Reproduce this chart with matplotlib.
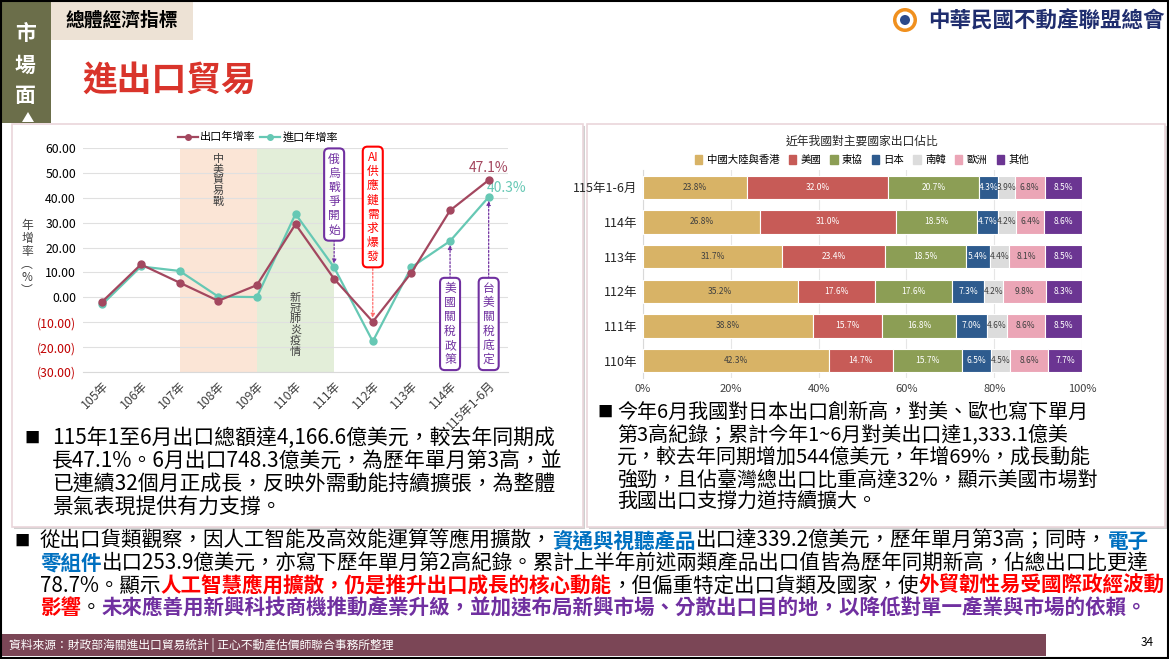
import matplotlib
matplotlib.use('Agg')
import matplotlib.pyplot as plt
from matplotlib.patches import Rectangle, Polygon, Circle, Patch
from matplotlib.lines import Line2D
import numpy as np

plt.rcParams['font.family'] = ['Noto Sans CJK TC', 'DejaVu Sans']

W, H = 1169, 659

# ---------------- data ----------------
years = ['105年', '106年', '107年', '108年', '109年', '110年', '111年', '112年', '113年', '114年', '115年1-6月']
export_growth = [-1.7, 13.2, 5.9, -1.4, 4.9, 29.4, 7.4, -9.8, 9.9, 34.9, 47.1]
import_growth = [-2.8, 12.4, 10.6, 0.3, 0.1, 33.5, 12.0, -17.7, 12.1, 22.6, 40.3]
growth_ticks = [60, 50, 40, 30, 20, 10, 0, -10, -20, -30]
series_names = ['出口年增率', '進口年增率']

shade_labels = ['中美貿易戰', '新冠肺炎疫情']
shade_ranges = [(2, 4), (4, 6)]
event_labels = ['俄烏戰爭開始', 'AI供應鏈需求爆發', '美國關稅政策', '台美關稅底定']
event_index = [6, 7, 9, 10]

share_title = '近年我國對主要國家出口佔比'
share_periods = ['115年1-6月', '114年', '113年', '112年', '111年', '110年']
share_regions = ['中國大陸與香港', '美國', '東協', '日本', '南韓', '歐洲', '其他']
share_china = [23.8, 26.8, 31.7, 35.2, 38.8, 42.3]
share_us = [32.0, 31.0, 23.4, 17.6, 15.7, 14.7]
share_asean = [20.7, 18.5, 18.5, 17.6, 16.8, 15.7]
share_japan = [4.3, 4.7, 5.4, 7.3, 7.0, 6.5]
share_korea = [3.9, 4.2, 4.4, 4.2, 4.6, 4.5]
share_europe = [6.8, 6.4, 8.1, 9.8, 8.6, 8.6]
share_other = [8.5, 8.6, 8.5, 8.3, 8.5, 7.7]
share_ticks = [0, 20, 40, 60, 80, 100]

# ---------------- styles ----------------
C_EXP = '#a3475f'
C_IMP = '#66c8b4'
C_PURPLE = '#7030a0'
C_RED = '#ff0000'
C_BLUE = '#0070c0'
share_colors = ['#d8b366', '#c75b57', '#8c9e55', '#2e5b8e', '#dcdcdc', '#eba5b6', '#6b3592']
share_txt = ['#404040', 'white', 'white', 'white', '#404040', '#404040', 'white']

fig = plt.figure(figsize=(W / 100, H / 100), dpi=100)
fig.patch.set_facecolor('white')


def px(x0, y0, x1, y1):
    return [x0 / W, 1 - y1 / H, (x1 - x0) / W, (y1 - y0) / H]


bg = fig.add_axes([0, 0, 1, 1])
bg.set_xlim(0, W)
bg.set_ylim(H, 0)
bg.axis('off')
bg.set_zorder(0)
renderer = fig.canvas.get_renderer()

# ---------------- header ----------------
bg.add_patch(Rectangle((0, 0), 51, 123, color='#6b6e4a', lw=0))
bg.add_patch(Polygon([[22, 122], [34, 122], [28, 112]], closed=True, color='white', lw=0))
for i, ch in enumerate('市場面'):
    bg.text(25.5, 34 + i * 31, ch, color='white', fontsize=15, fontweight='bold', ha='center', va='center')
bg.add_patch(Rectangle((51, 0), 142, 40, color='#ede2d5', lw=0))
bg.text(122, 20, '總體經濟指標', fontsize=13.5, fontweight='bold', ha='center', va='center', color='black')
bg.text(82, 80, '進出口貿易', fontsize=25, fontweight='bold', ha='left', va='center', color='#d9342b')

# logo
bg.add_patch(Circle((905, 20), 12, color='#f0901e', lw=0))
bg.add_patch(Circle((905, 20), 8.5, color='white', lw=0))
bg.add_patch(Circle((905, 20), 5, color='#2b4a8a', lw=0))
bg.text(928, 21, '中華民國不動產聯盟總會', fontsize=15.5, fontweight='bold', color='#1f2d6e',
        ha='left', va='center')

# panels
for (x0, y0, x1, y1) in [(12, 124, 583, 527), (587, 124, 1165, 527)]:
    bg.add_patch(Rectangle((x0 + 2, y0 + 2), x1 - x0, y1 - y0, facecolor='#d0d0d0', lw=0))
    bg.add_patch(Rectangle((x0, y0), x1 - x0, y1 - y0, facecolor='white', edgecolor='#ead6da', lw=1.2))

# ---------------- line chart ----------------
ax1 = fig.add_axes(px(83, 148, 508, 372))
ax1.set_zorder(2)
ax1.patch.set_alpha(0)
x = np.arange(len(years))
shade_colors = ['#fbe5d6', '#e3eed9']
for (a, b), c in zip(shade_ranges, shade_colors):
    ax1.axvspan(a, b, color=c, lw=0, zorder=0)
ax1.plot(x, export_growth, color=C_EXP, marker='o', ms=5, lw=1.6, zorder=4, label=series_names[0])
ax1.plot(x, import_growth, color=C_IMP, marker='o', ms=5, lw=1.6, zorder=3, label=series_names[1])
ax1.set_xlim(-0.5, len(years) - 0.5)
ax1.set_ylim(-30, 60)
ax1.set_yticks(growth_ticks)
ax1.set_yticklabels([f'{v:.2f}' if v >= 0 else f'({abs(v):.2f})' for v in growth_ticks], fontsize=8.8)
for lab, v in zip(ax1.get_yticklabels(), growth_ticks):
    lab.set_color('#c00000' if v < 0 else 'black')
ax1.set_xticks(x)
ax1.set_xticklabels(years, rotation=45, ha='right', rotation_mode='anchor', fontsize=8.8, color='#404040')
ax1.tick_params(length=0, pad=5)
ax1.grid(axis='y', color='#e0e0e0', lw=0.8, zorder=1)
ax1.set_axisbelow(True)
for s in ['top', 'right', 'left']:
    ax1.spines[s].set_visible(False)
ax1.spines['bottom'].set_color('#d9d9d9')

# shade labels
ax1.text(3, 57.5, '\n'.join(shade_labels[0]), fontsize=8, color='#404040', ha='center', va='top', linespacing=1.05)
ax1.text(5, 1.8, '\n'.join(shade_labels[1]), fontsize=8, color='#404040', ha='center', va='top', linespacing=1.05)


def vtext(s):
    out = []
    i = 0
    while i < len(s):
        if s[i:i + 2] == 'AI':
            out.append('AI')
            i += 2
        else:
            out.append(s[i])
            i += 1
    return '\n'.join(out)


ev_y = [41.3, 36.3, -10.7, -10.7]
ev_col = [C_PURPLE, C_RED, C_PURPLE, C_PURPLE]
for lab, xi, yy, col in zip(event_labels, event_index, ev_y, ev_col):
    ax1.text(xi, yy, vtext(lab), fontsize=8.5, color=col, ha='center', va='center', linespacing=1.12, zorder=6,
             bbox=dict(boxstyle='round,pad=0.35,rounding_size=0.4', fc='white', ec=col, lw=1.5))

arrows = [((6, 23.0), (6, import_growth[6] + 1.5), C_PURPLE),
          ((7, 13.0), (7, export_growth[7] + 1.5), '#ff6b6b'),
          ((9, 7.5), (9, import_growth[9] - 1.5), C_PURPLE),
          ((10, 7.5), (10, import_growth[10] - 1.5), C_PURPLE)]
for (p0, p1, col) in arrows:
    ax1.annotate('', xy=p1, xytext=p0,
                 arrowprops=dict(arrowstyle='-|>', color=col, lw=0.9, ls=(0, (1.5, 1.5)),
                                 mutation_scale=6, shrinkA=0, shrinkB=0), zorder=5)

ax1.text(10, export_growth[-1] + 5.0, f'{export_growth[-1]:.1f}%', color=C_EXP, fontsize=10, ha='center', va='center')
ax1.text(10.45, import_growth[-1] + 3.8, f'{import_growth[-1]:.1f}%', color=C_IMP, fontsize=10, ha='center', va='center')

fig.legend(handles=[Line2D([], [], color=C_EXP, marker='o', ms=4, lw=1.6),
                    Line2D([], [], color=C_IMP, marker='o', ms=4, lw=1.6)],
           labels=series_names, loc='center', bbox_to_anchor=(258 / W, 1 - 137 / H), ncol=2, frameon=False,
           fontsize=8, handlelength=1.8, columnspacing=0.4, handletextpad=0.2)

bg.text(27, 258, '年\n增\n率\n︵\n%\n︶', fontsize=8.5, ha='center', va='center', linespacing=1.0, color='#404040')

# ---------------- stacked bar chart ----------------
ax2 = fig.add_axes(px(643, 170, 1082, 378))
ax2.set_zorder(2)
ax2.patch.set_alpha(0)
series = [share_china, share_us, share_asean, share_japan, share_korea, share_europe, share_other]
vals = np.array(series, dtype=float)
totals = vals.sum(axis=0)
norm = vals / totals * 100
ypos = np.arange(len(share_periods))
left = np.zeros(len(share_periods))
for k, name in enumerate(share_regions):
    ax2.barh(ypos, norm[k], left=left, height=0.67, color=share_colors[k], edgecolor='white', lw=0.8,
             label=name, zorder=3)
    for j in range(len(share_periods)):
        ax2.text(left[j] + norm[k][j] / 2, ypos[j], f'{vals[k][j]:.1f}%', ha='center', va='center',
                 fontsize=6.1, color=share_txt[k], zorder=4)
    left = left + norm[k]
ax2.set_ylim(len(share_periods) - 0.5, -0.5)
ax2.set_xlim(0, 100)
ax2.set_yticks(ypos)
ax2.set_yticklabels(share_periods, fontsize=9, color='#262626')
ax2.set_xticks(share_ticks)
ax2.set_xticklabels([f'{t}%' for t in share_ticks], fontsize=8, color='#404040')
ax2.tick_params(length=0, pad=4)
ax2.grid(axis='x', color='#e6e6e6', lw=0.8, zorder=0)
ax2.set_axisbelow(True)
for s in ['top', 'right', 'bottom']:
    ax2.spines[s].set_visible(False)
ax2.spines['left'].set_color('#d9d9d9')

bg.text(862, 141, share_title, fontsize=8.5, ha='center', va='center', color='#262626')
fig.legend(handles=[Patch(color=c) for c in share_colors], labels=share_regions, loc='center',
           bbox_to_anchor=(862 / W, 1 - 160 / H), ncol=7, frameon=False, fontsize=7.5,
           handlelength=0.7, handleheight=0.9, columnspacing=0.9, handletextpad=0.4)

# ---------------- paragraphs ----------------


def rich(x0, y, segments, fs):
    xx = x0
    for s, col, wt in segments:
        t = bg.text(xx, y, s, fontsize=fs, color=col, fontweight=wt, ha='left', va='center')
        bb = t.get_window_extent(renderer)
        xx += bb.width


left_lines = ['115年1至6月出口總額達4,166.6億美元，較去年同期成',
              '長47.1%。6月出口748.3億美元，為歷年單月第3高，並',
              '已連續32個月正成長，反映外需動能持續擴張，為整體',
              '景氣表現提供有力支撐。']
bg.text(32, 438, '■', fontsize=11, ha='center', va='center', color='black')
for i, ln in enumerate(left_lines):
    bg.text(52, 438 + i * 23.3, ln, fontsize=15.0, ha='left', va='center', color='black')

right_lines = ['今年6月我國對日本出口創新高，對美、歐也寫下單月',
               '第3高紀錄；累計今年1~6月對美出口達1,333.1億美',
               '元，較去年同期增加544億美元，年增69%，成長動能',
               '強勁，且佔臺灣總出口比重高達32%，顯示美國市場對',
               '我國出口支撐力道持續擴大。']
bg.text(605, 412, '■', fontsize=11, ha='center', va='center', color='black')
for i, ln in enumerate(right_lines):
    bg.text(617, 412 + i * 22.6, ln, fontsize=14.4, ha='left', va='center', color='black')

K = 'black'
bottom_lines = [
    [('從出口貨類觀察，因人工智能及高效能運算等應用擴散，', K, 'normal'), ('資通與視聽產品', C_BLUE, 'bold'),
     ('出口達339.2億美元，歷年單月第3高；同時，', K, 'normal'), ('電子', C_BLUE, 'bold')],
    [('零組件', C_BLUE, 'bold'),
     ('出口253.9億美元，亦寫下歷年單月第2高紀錄。累計上半年前述兩類產品出口值皆為歷年同期新高，佔總出口比更達', K, 'normal')],
    [('78.7%。顯示', K, 'normal'), ('人工智慧應用擴散，仍是推升出口成長的核心動能', C_RED, 'bold'),
     ('，但偏重特定出口貨類及國家，使', K, 'normal'), ('外貿韌性易受國際政經波動', C_RED, 'bold')],
    [('影響', C_RED, 'bold'), ('。', K, 'normal'),
     ('未來應善用新興科技商機推動產業升級，並加速布局新興市場、分散出口目的地，以降低對單一產業與市場的依賴。', C_PURPLE, 'bold')],
]
bg.text(22, 541, '■', fontsize=11, ha='center', va='center', color='black')
for i, segs in enumerate(bottom_lines):
    rich(40, 541 + i * 22.3, segs, 14.8)

# ---------------- footer ----------------
bg.add_patch(Rectangle((0, 634), 1046, 22, color='#7b4656', lw=0))
bg.text(9, 645, '資料來源：財政部海關進出口貿易統計 | 正心不動產估價師聯合事務所整理', fontsize=8.5,
        color='white', ha='left', va='center')
bg.text(1147, 643, '34', fontsize=8.5, color='black', ha='center', va='center')
bg.add_patch(Rectangle((0.75, 0.75), W - 1.5, H - 1.5, fill=False, ec='black', lw=1.5))

fig.savefig('out.png', dpi=100, facecolor='white')
